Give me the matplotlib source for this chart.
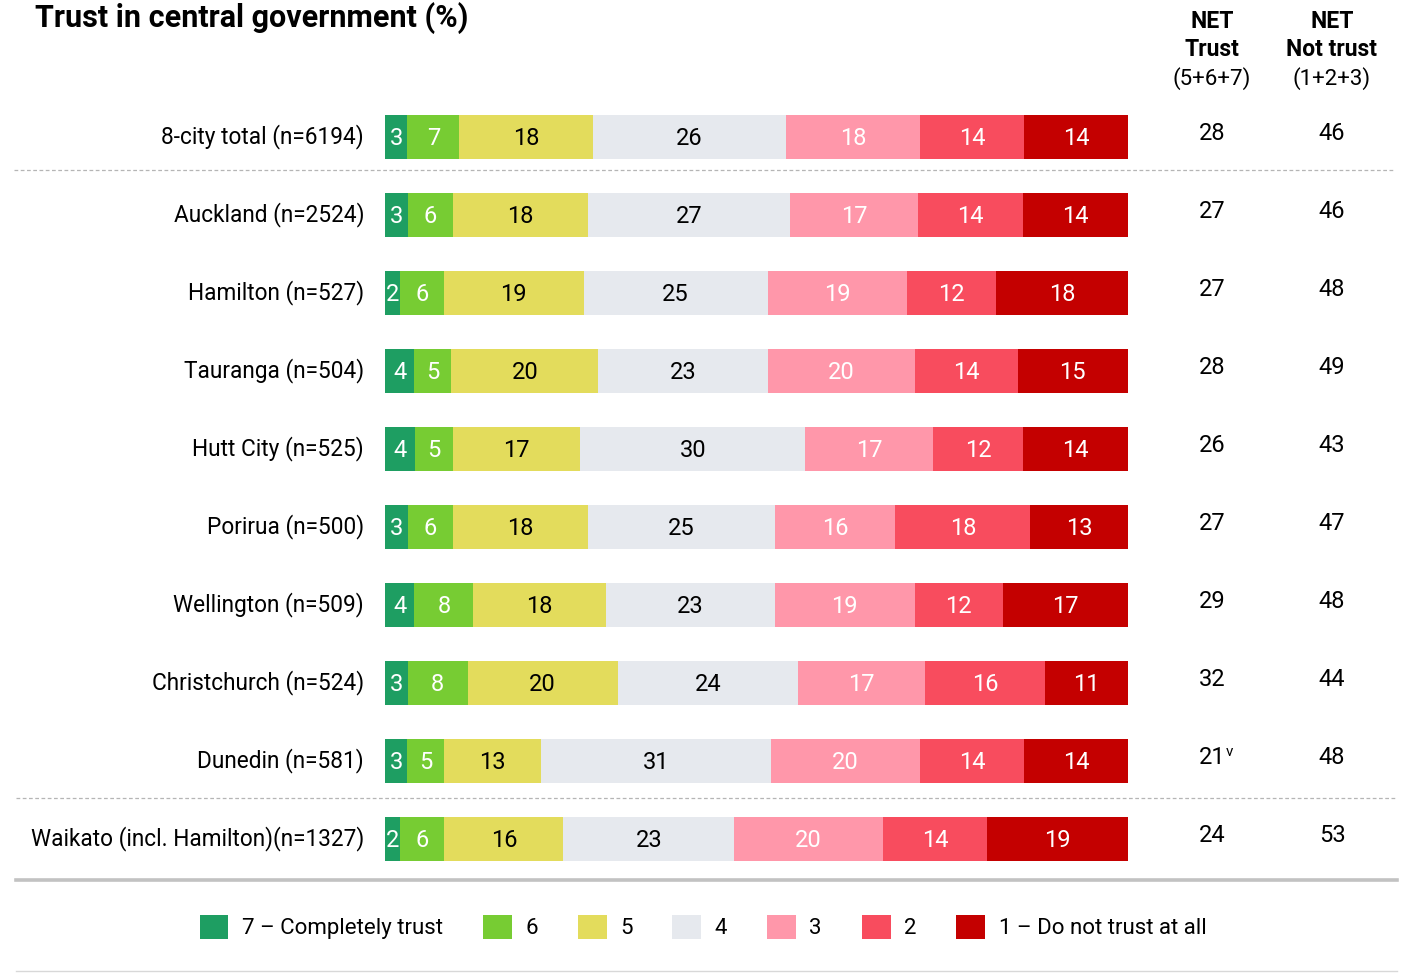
"""
Trust in central government (%): stacked 7-point scale bars by city, with NET columns.
"""

import matplotlib
matplotlib.use("Agg")
import matplotlib.pyplot as plt
import numpy as np
from matplotlib.lines import Line2D
from matplotlib.patches import Patch
from matplotlib.transforms import blended_transform_factory

plt.rcParams["font.family"] = ["Roboto", "DejaVu Sans"]

cities = [
    "8-city total (n=6194)", "Auckland (n=2524)", "Hamilton (n=527)",
    "Tauranga (n=504)", "Hutt City (n=525)", "Porirua (n=500)",
    "Wellington (n=509)", "Christchurch (n=524)", "Dunedin (n=581)",
    "Waikato (incl. Hamilton)(n=1327)",
]
# scale points, left to right: 7, 6, 5, 4, 3, 2, 1
score7 = [3, 3, 2, 4, 4, 3, 4, 3, 3, 2]
score6 = [7, 6, 6, 5, 5, 6, 8, 8, 5, 6]
score5 = [18, 18, 19, 20, 17, 18, 18, 20, 13, 16]
score4 = [26, 27, 25, 23, 30, 25, 23, 24, 31, 23]
score3 = [18, 17, 19, 20, 17, 16, 19, 17, 20, 20]
score2 = [14, 14, 12, 14, 12, 18, 12, 16, 14, 14]
score1 = [14, 14, 18, 15, 14, 13, 17, 11, 14, 19]
net_trust = [28, 27, 27, 28, 26, 27, 29, 32, 21, 24]
net_not_trust = [46, 46, 48, 49, 43, 47, 48, 44, 48, 53]
net_trust_note = ["", "", "", "", "", "", "", "", "v", ""]

legend_labels = ["7 – Completely trust", "6", "5", "4", "3", "2", "1 – Do not trust at all"]
colors = ["#1e9e62", "#77cc33", "#e3dc5c", "#e6e9ee", "#ff97aa", "#f84c5e", "#c40000"]
text_colors = ["white", "white", "black", "black", "white", "white", "white"]

vals = np.array([score7, score6, score5, score4, score3, score2, score1], dtype=float).T
widths = vals / vals.sum(axis=1, keepdims=True) * 100  # bars fill 100%

W, H = 1409, 973
fig = plt.figure(figsize=(W / 100, H / 100), dpi=100)
ax = fig.add_axes([385 / W, 1 - 878 / H, (1128 - 385) / W, 780 / H])

y = np.arange(len(cities))
left = np.zeros(len(cities))
for k in range(7):
    ax.barh(y, widths[:, k], left=left, height=0.57, color=colors[k], linewidth=0)
    for i in range(len(cities)):
        ax.text(left[i] + widths[i, k] / 2, y[i] + 0.02, f"{int(vals[i, k])}",
                ha="center", va="center", fontsize=17, color=text_colors[k])
    left += widths[:, k]

ax.set_xlim(0, 100)
ax.set_ylim(len(cities) - 0.5, -0.5)
ax.axis("off")

# city labels and NET columns (x in figure px, y in row data)
tr = blended_transform_factory(fig.transFigure, ax.transData)
for i, name in enumerate(cities):
    ax.text(364 / W, i, name, transform=tr, ha="right", va="center", fontsize=16.3)
    ax.text(1212 / W, i - 0.04, f"{net_trust[i]}", transform=tr, ha="center",
            va="center", fontsize=17)
    if net_trust_note[i]:
        ax.annotate(net_trust_note[i], (1226 / W, i - 0.04), xycoords=tr,
                    xytext=(0, 4), textcoords="offset points", fontsize=11,
                    ha="left", va="center")
    ax.text(1332 / W, i - 0.04, f"{net_not_trust[i]}", transform=tr, ha="center",
            va="center", fontsize=17)

# separators
for yy, x0, x1 in [(0.42, 14, 1395), (8.48, 16, 1397)]:
    fig.add_artist(Line2D([x0 / W, x1 / W], [yy, yy], transform=tr,
                          color="#b5b5b5", lw=0.9, ls=(0, (3, 2))))
fig.add_artist(Line2D([16 / W, 1397 / W], [1 - 880 / H] * 2, color="#c2c2c2", lw=2.6))
fig.add_artist(Line2D([16 / W, 1397 / W], [1 - 971 / H] * 2, color="#d8d8d8", lw=1))

# title and column headers
fig.text(35 / W, 1 - 27 / H, "Trust in central government (%)", fontsize=22,
         fontweight="bold", va="baseline")
for xc, l1, l2, l3 in [(1212, "NET", "Trust", "(5+6+7)"),
                       (1332, "NET", "Not trust", "(1+2+3)")]:
    fig.text(xc / W, 1 - 21 / H, l1, ha="center", va="center", fontsize=16.5, fontweight="bold")
    fig.text(xc / W, 1 - 50 / H, l2, ha="center", va="center", fontsize=16.5, fontweight="bold")
    fig.text(xc / W, 1 - 79 / H, l3, ha="center", va="center", fontsize=16)

handles = [Patch(facecolor=c, edgecolor="none") for c in colors]
fig.legend(handles, legend_labels, loc="center", bbox_to_anchor=(703 / W, 1 - 927 / H),
           ncol=7, frameon=False, fontsize=16, handlelength=1.3, handleheight=1.3,
           handletextpad=0.6, columnspacing=1.8)

plt.savefig("out.png", dpi=100)
